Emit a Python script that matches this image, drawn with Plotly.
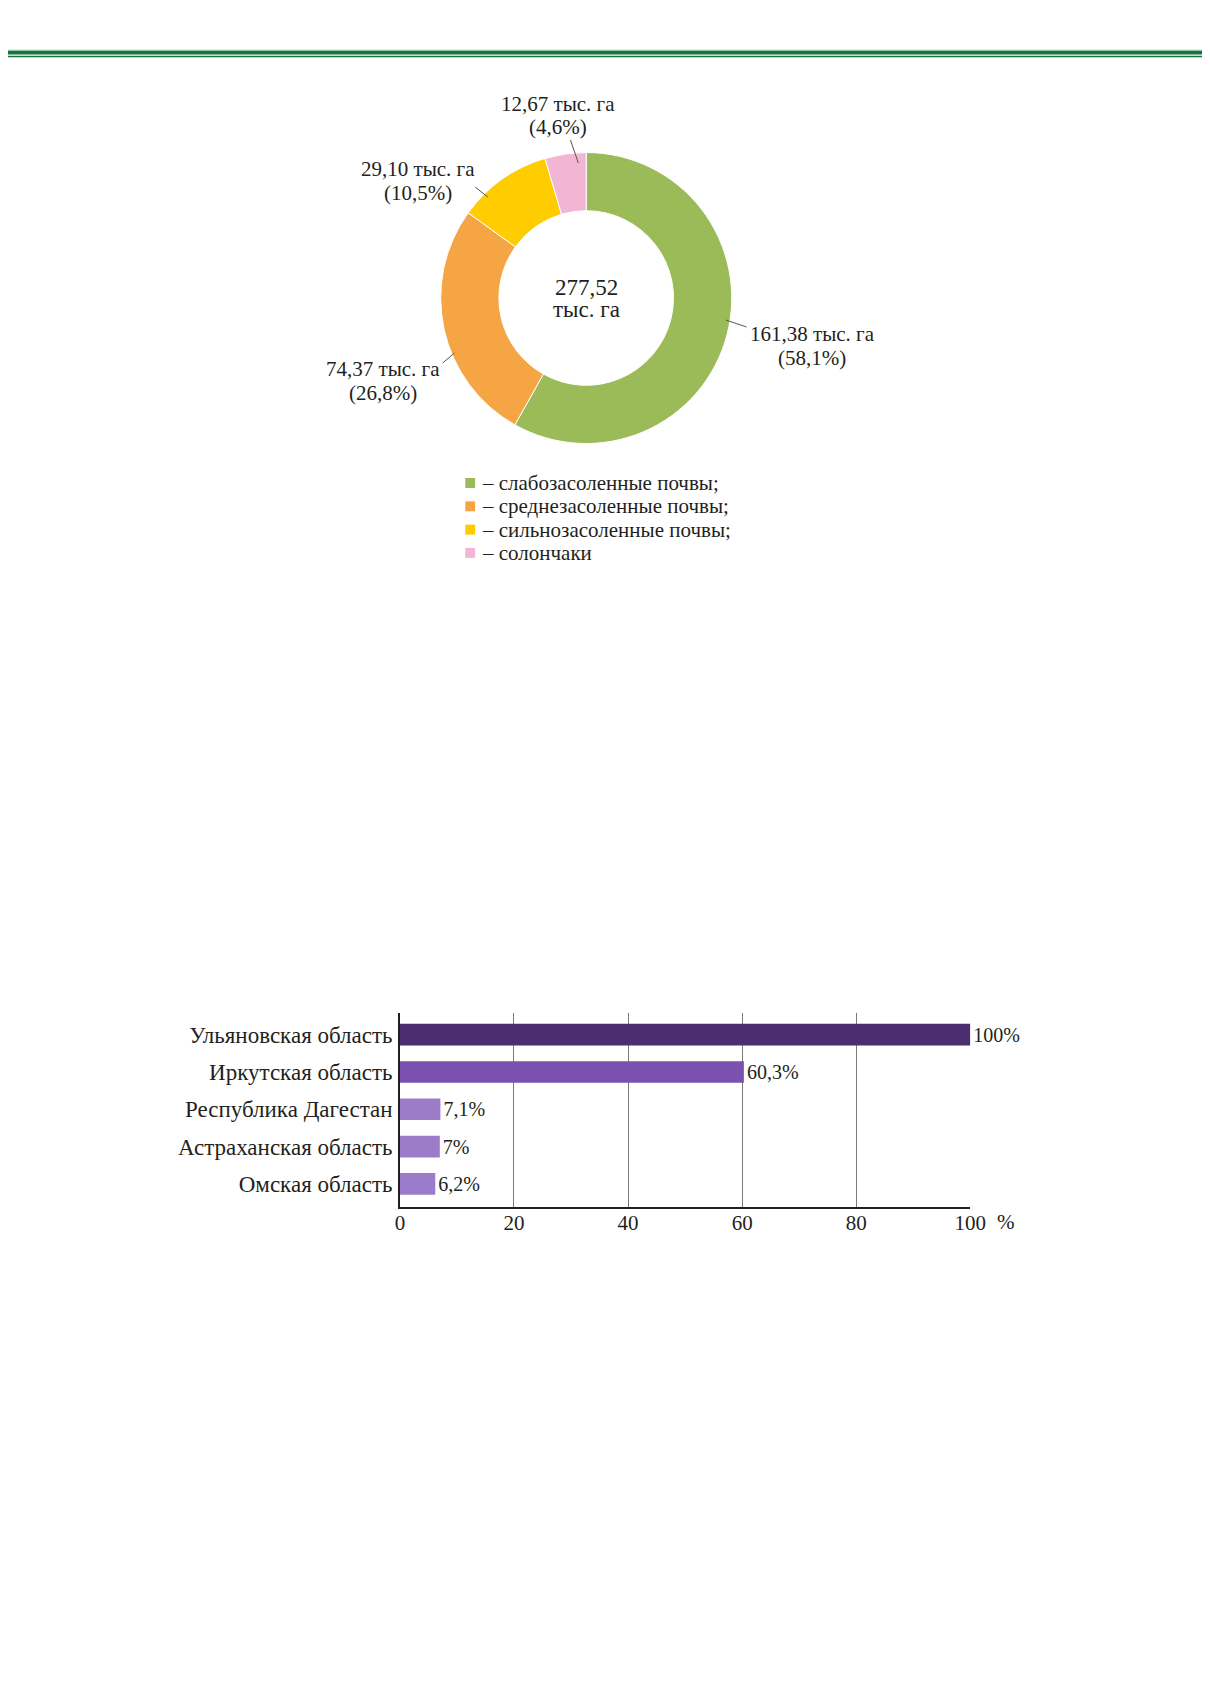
import plotly.graph_objects as go

# soil salinity classes (donut)
SOIL_CLASSES = [
    "слабозасоленные почвы;",
    "среднезасоленные почвы;",
    "сильнозасоленные почвы;",
    "солончаки",
]
SOIL_AREA = [161.38, 74.37, 29.10, 12.67]  # тыс. га
SOIL_SHARE = [58.1, 26.8, 10.5, 4.6]  # % as printed

# regions (bar chart)
REGIONS = [
    "Ульяновская область",
    "Иркутская область",
    "Республика Дагестан",
    "Астраханская область",
    "Омская область",
]
REGION_SHARE = [100, 60.3, 7.1, 7, 6.2]
X_TICKS = [0, 20, 40, 60, 80, 100]

# the page body adds an 8px margin; figure is wider than the window so the rule runs to the edge
PAGE_MARGIN = 8
W, H = 1250, 1640
FONT = "Liberation Serif"
INK = "#231f20"
SOIL_COLORS = ["#9bbb59", "#f5a544", "#ffcc00", "#f2b5d4"]
REGION_COLORS = ["#4b2e6f", "#7a51ae", "#9c7cc8", "#9c7cc8", "#9c7cc8"]

# donut placement in window pixels
PIE_CX, PIE_CY, PIE_R = 591, 298, 148
# label centres (two lines each) and leader lines (slice end -> text end)
LABEL_XY = [(821, 334, 358), (384, 369, 393), (420, 169, 193), (562, 104, 127)]
LEADERS = [
    ((733, 320), (754, 327)),
    ((457, 353), (445, 363)),
    ((491, 197), (478, 187)),
    ((583, 163), (575, 140)),
]
LEGEND_X, LEGEND_Y0, LEGEND_STEP = 473, 483, 23.3

# bar plot area in window pixels
BAR_LEFT, BAR_RIGHT, BAR_TOP, BAR_BOTTOM = 401.5, 981.7, 1013, 1207


def px(x):
    return (x - PAGE_MARGIN) / W


def py(y):
    return 1 - (y - PAGE_MARGIN) / H


def comma(value, digits=None):
    text = f"{value:.{digits}f}" if digits is not None else f"{value:g}"
    return text.replace(".", ",")


def label(x, y, text, size, xanchor="center"):
    return dict(
        x=px(x), y=py(y), xref="paper", yref="paper", showarrow=False,
        text=text, xanchor=xanchor, yanchor="middle",
        font={"family": FONT, "size": size, "color": INK},
    )


fig = go.Figure()

fig.add_trace(
    go.Pie(
        labels=SOIL_CLASSES,
        values=SOIL_AREA,
        hole=0.6,
        sort=False,
        direction="clockwise",
        rotation=0,
        textinfo="none",
        marker={"colors": SOIL_COLORS, "line": {"color": "white", "width": 1}},
        domain={
            "x": [px(PIE_CX - PIE_R), px(PIE_CX + PIE_R)],
            "y": [py(PIE_CY + PIE_R), py(PIE_CY - PIE_R)],
        },
        showlegend=False,
    )
)

fig.add_trace(
    go.Bar(
        x=REGION_SHARE,
        y=REGIONS,
        orientation="h",
        width=0.58,
        marker={"color": REGION_COLORS, "line": {"width": 0}},
        text=[comma(v) + "%" for v in REGION_SHARE],
        textposition="outside",
        textfont={"family": FONT, "size": 20, "color": INK},
        constraintext="none",
        cliponaxis=False,
        showlegend=False,
    )
)

annotations = []
shapes = []

# header rule
shapes.append(dict(type="rect", xref="paper", yref="paper", x0=-0.01, x1=1.01,
                   y0=py(54.5), y1=py(50.5), fillcolor="#17723f", line={"width": 0}))
shapes.append(dict(type="line", xref="paper", yref="paper", x0=-0.01, x1=1.01,
                   y0=py(50.2), y1=py(50.2), line={"color": "#8fd1a6", "width": 1}))
shapes.append(dict(type="line", xref="paper", yref="paper", x0=-0.01, x1=1.01,
                   y0=py(56.5), y1=py(56.5), line={"color": "#17723f", "width": 1.5}))

# donut labels
for i, area in enumerate(SOIL_AREA):
    lx, ly1, ly2 = LABEL_XY[i]
    annotations.append(label(lx, ly1, f"{comma(area, 2)} тыс. га", 21))
    annotations.append(label(lx, ly2, f"({comma(SOIL_SHARE[i])}%)", 21))
    (x0, y0), (x1, y1) = LEADERS[i]
    shapes.append(dict(type="line", xref="paper", yref="paper",
                       x0=px(x0), y0=py(y0), x1=px(x1), y1=py(y1),
                       line={"color": "#555555", "width": 1}))

annotations.append(label(PIE_CX, 287, comma(sum(SOIL_AREA), 2), 23))
annotations.append(label(PIE_CX, 310, "тыс. га", 23))

# donut legend
for i, name in enumerate(SOIL_CLASSES):
    ry = LEGEND_Y0 + i * LEGEND_STEP
    shapes.append(dict(type="rect", xref="paper", yref="paper",
                       x0=px(LEGEND_X - 5), x1=px(LEGEND_X + 5),
                       y0=py(ry + 5), y1=py(ry - 5),
                       fillcolor=SOIL_COLORS[i], line={"width": 0}))
    annotations.append(label(LEGEND_X + 10, ry, "– " + name, 21, xanchor="left"))

# unit after the last x tick
annotations.append(label(1018, 1222, "%", 21))

n = len(REGIONS)
fig.update_layout(
    width=W,
    height=H,
    margin={"l": 0, "r": 0, "t": 0, "b": 0},
    paper_bgcolor="white",
    plot_bgcolor="white",
    font={"family": FONT, "color": INK},
    annotations=annotations,
    shapes=shapes,
    xaxis={
        "domain": [px(BAR_LEFT), px(BAR_RIGHT)],
        "range": [0, 100],
        "tickvals": X_TICKS,
        "ticktext": [str(t) for t in X_TICKS],
        "showgrid": True,
        "gridcolor": "#7a7a7a",
        "gridwidth": 1,
        "zeroline": False,
        "showline": True,
        "linecolor": INK,
        "linewidth": 1.5,
        "ticks": "",
        "ticklabelstandoff": -4,
        "tickfont": {"family": FONT, "size": 21, "color": INK},
        "fixedrange": True,
    },
    yaxis={
        "domain": [py(BAR_BOTTOM), py(BAR_TOP)],
        "categoryorder": "array",
        "categoryarray": REGIONS,
        "range": [n - 1 + 0.62, -0.58],
        "showgrid": False,
        "zeroline": False,
        "showline": True,
        "linecolor": INK,
        "linewidth": 1.5,
        "ticks": "",
        "ticklabelstandoff": 1,
        "tickfont": {"family": FONT, "size": 23, "color": INK},
        "fixedrange": True,
    },
)

fig.write_html("out.html")
